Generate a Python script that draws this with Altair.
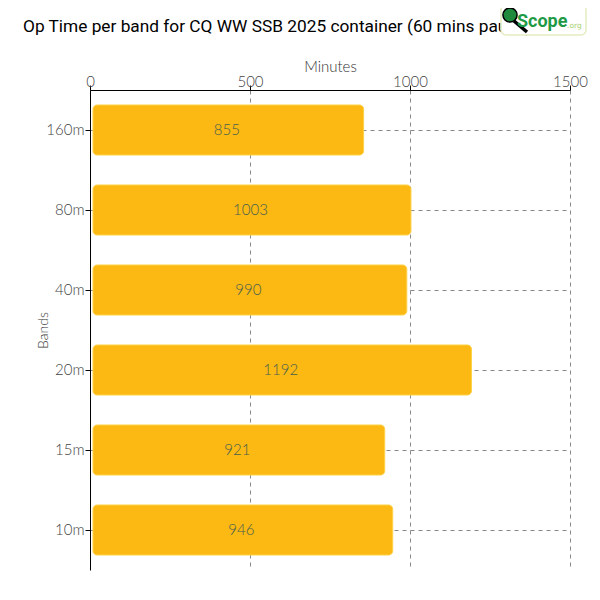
import altair as alt
import pandas as pd

bands = ["160m", "80m", "40m", "20m", "15m", "10m"]
minutes = [855, 1003, 990, 1192, 921, 946]
x_ticks = [0, 500, 1000, 1500]
title_text = "Op Time per band for CQ WW SSB 2025 container (60 mins pause)"

df = pd.DataFrame({"band": bands, "minutes": minutes})
one = pd.DataFrame({"a": [0]})

FONT = "Lato"
LABEL_COLOR = "#444444"

x_scale = alt.Scale(domain=[0, 1500], nice=False)
y_scale = alt.Scale(domain=bands, paddingInner=0, paddingOuter=0)

x_axis = alt.Axis(
    orient="top", values=x_ticks, format="d", grid=True, gridDash=[4, 4], gridColor="#888888",
    domainColor="black", tickColor="black", tickSize=5, labelFont=FONT, labelFontSize=15,
    labelFontWeight=300, labelColor=LABEL_COLOR, labelPadding=-4, title="Minutes",
    titleFont=FONT, titleFontSize=15, titleFontWeight=300, titleColor="#333333",
    titlePadding=0, labelFlush=False,
)
y_axis = alt.Axis(
    bandPosition=0.5, grid=True, gridDash=[4, 4], gridColor="#888888",
    domainColor="black", tickColor="black", tickSize=5, labelFont=FONT, labelFontSize=15,
    labelFontWeight=300, labelColor=LABEL_COLOR, labelPadding=1, title="Bands",
    titleFont=FONT, titleFontSize=14, titleFontWeight=300, titleColor="#333333",
    titlePadding=-5,
)

base = alt.Chart(df)

bars = base.mark_bar(
    size=50, cornerRadius=4, color="#FCB813", stroke="#FDD246", strokeWidth=1, x2Offset=3
).encode(
    x=alt.X("minutes:Q", scale=x_scale, axis=x_axis),
    x2=alt.datum(0),
    y=alt.Y("band:N", sort=bands, scale=y_scale, axis=y_axis),
)

labels = base.transform_calculate(mid="datum.minutes / 2").mark_text(
    font=FONT, fontSize=15, fontWeight=300, color="#46604F", align="center", baseline="middle"
).encode(
    x=alt.X("mid:Q", scale=x_scale),
    y=alt.Y("band:N", sort=bands, scale=y_scale),
    text=alt.Text("minutes:Q"),
)

title_mark = alt.Chart(one).mark_text(
    text=title_text, font="Roboto", fontSize=17.3, color="black", align="left", baseline="alphabetic"
).encode(x=alt.value(-67), y=alt.value(-58))

logo_box = alt.Chart(one).mark_rect(
    fill="white", stroke="#E4EDC0", strokeWidth=1.5, cornerRadius=5
).encode(x=alt.value(411), x2=alt.value(496), y=alt.value(-85), y2=alt.value(-55))

logo_handle = alt.Chart(one).mark_rule(color="black", strokeWidth=3.5).encode(
    x=alt.value(424), y=alt.value(-69), x2=alt.value(437), y2=alt.value(-58)
)
logo_globe = alt.Chart(one).mark_point(
    shape="circle", filled=True, size=200, color="#1F8A3C", opacity=1, stroke="black", strokeWidth=1.5
).encode(x=alt.value(420), y=alt.value(-75))
logo_text = alt.Chart(one).mark_text(
    text="Scope", font="Roboto", fontWeight="bold", fontSize=18,
    color="#1E9A46", align="left", baseline="alphabetic"
).encode(x=alt.value(427), y=alt.value(-63))
logo_org = alt.Chart(one).mark_text(
    text=".org", font="DejaVu Sans", fontSize=7.5, color="#A5D170", align="left", baseline="alphabetic"
).encode(x=alt.value(477), y=alt.value(-62))

chart = alt.layer(
    bars, labels, title_mark, logo_box, logo_handle, logo_globe, logo_text, logo_org
).properties(
    width=480,
    height=480,
    autosize=alt.AutoSizeParams(type="none"),
    padding={"left": 82, "top": 82, "right": 22, "bottom": 22},
).configure(background="white").configure_view(stroke=None)

chart.save("out.html", embed_options={"renderer": "svg", "actions": False})
